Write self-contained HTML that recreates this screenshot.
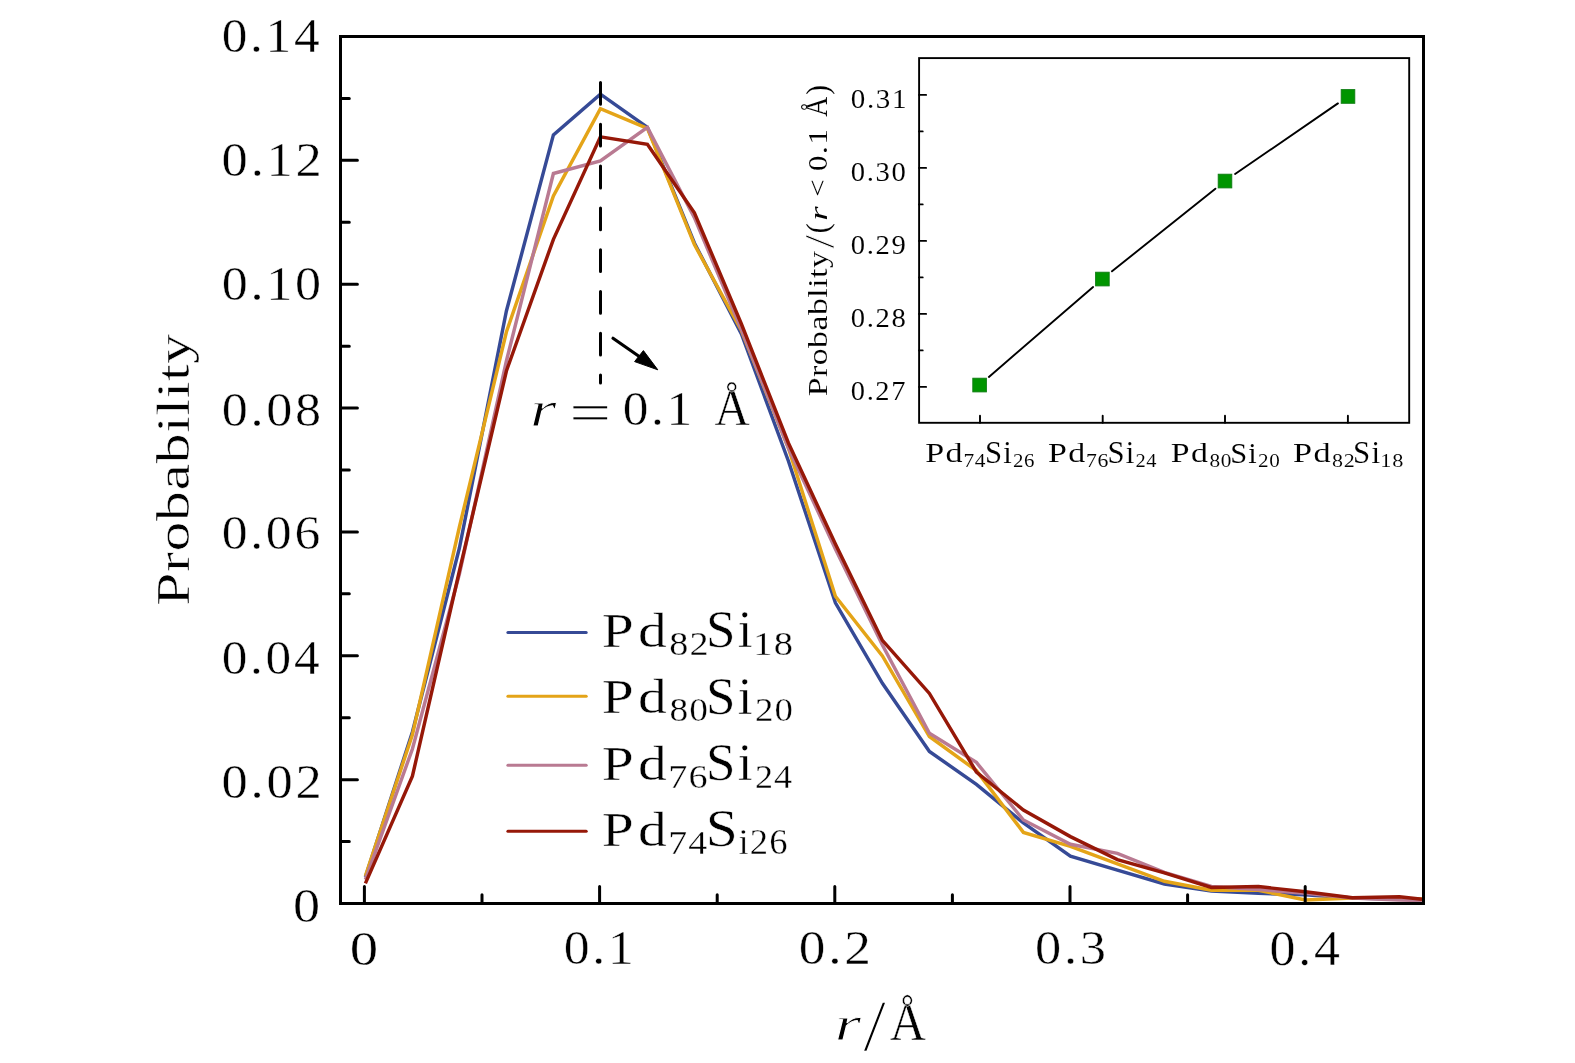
<!DOCTYPE html>
<html lang="en"><head><meta charset="utf-8"><title>Probability distribution of r</title>
<style>html,body{margin:0;padding:0;background:#fff}svg{display:block;will-change:transform}</style></head><body>
<svg width="1575" height="1063" viewBox="0 0 1575 1063" role="img" aria-label="Probability versus r for Pd-Si alloys">
<rect width="1575" height="1063" fill="#fff"/>
<g>
<polyline points="365.4,877.0 412.4,732.0 459.4,548.0 506.4,311.0 553.4,134.9 600.4,94.2 647.4,127.4 694.4,243.0 741.4,334.0 788.4,461.0 835.4,602.8 882.4,683.3 929.4,751.5 976.4,784.3 1023.4,823.0 1070.4,856.1 1117.4,870.1 1164.4,884.0 1211.4,891.0 1258.4,893.3 1305.4,894.8 1352.4,898.0 1399.4,899.0 1422.0,899.5" fill="none" stroke="#364A96" stroke-width="3.45" stroke-linejoin="miter" stroke-miterlimit="6" stroke-linecap="butt"/>
<polyline points="365.4,876.0 412.4,734.8 459.4,527.0 506.4,332.0 553.4,196.0 600.4,108.6 647.4,128.3 694.4,244.6 741.4,330.5 788.4,448.0 835.4,596.3 882.4,656.0 929.4,736.5 976.4,770.6 1023.4,832.4 1070.4,846.3 1117.4,863.8 1164.4,881.3 1211.4,890.3 1258.4,890.3 1305.4,900.0 1352.4,898.0 1399.4,898.5 1422.0,899.0" fill="none" stroke="#E4A418" stroke-width="3.45" stroke-linejoin="miter" stroke-miterlimit="6" stroke-linecap="butt"/>
<polyline points="365.4,879.6 412.4,749.0 459.4,574.0 506.4,361.0 553.4,173.5 600.4,160.9 647.4,127.4 694.4,217.7 741.4,329.5 788.4,448.0 835.4,549.0 882.4,645.0 929.4,733.2 976.4,762.4 1023.4,820.0 1070.4,844.3 1117.4,853.3 1164.4,872.3 1211.4,886.5 1258.4,889.5 1305.4,893.3 1352.4,898.0 1399.4,900.0 1422.0,900.5" fill="none" stroke="#B97A92" stroke-width="3.45" stroke-linejoin="miter" stroke-miterlimit="6" stroke-linecap="butt"/>
<polyline points="365.4,883.4 412.4,776.2 459.4,571.0 506.4,371.0 553.4,239.3 600.4,136.8 647.4,144.3 694.4,212.8 741.4,324.0 788.4,443.0 835.4,544.0 882.4,640.4 929.4,693.4 976.4,772.0 1023.4,810.0 1070.4,836.6 1117.4,859.6 1164.4,872.9 1211.4,887.4 1258.4,886.6 1305.4,891.8 1352.4,897.7 1399.4,896.8 1422.0,899.2" fill="none" stroke="#961808" stroke-width="3.45" stroke-linejoin="miter" stroke-miterlimit="6" stroke-linecap="butt"/>
</g>
<g stroke="#000" fill="none">
<rect x="340.5" y="36.5" width="1083" height="867" stroke-width="3"/>
<path d="M340.5 841.57h8.8 M340.5 779.64h16.9 M340.5 717.71h8.8 M340.5 655.78h16.9 M340.5 593.85h8.8 M340.5 531.92h16.9 M340.5 469.99h8.8 M340.5 408.06h16.9 M340.5 346.13h8.8 M340.5 284.20h16.9 M340.5 222.27h8.8 M340.5 160.34h16.9 M340.5 98.41h8.8 M364.40 903.5v-16.9 M482.00 903.5v-8.8 M599.60 903.5v-16.9 M717.20 903.5v-8.8 M834.80 903.5v-16.9 M952.40 903.5v-8.8 M1070.00 903.5v-16.9 M1187.60 903.5v-8.8 M1305.20 903.5v-16.9" stroke-width="3" stroke-linecap="round"/>
<path d="M600.5 82.5V383" stroke-width="3" stroke-dasharray="21.8 20" stroke-linecap="round"/>
<path d="M613 338.3L645 360.5" stroke-width="3.2" stroke-linecap="round"/>
<path d="M657.8 369.8L634.6 361.6L643.4 350.6Z" fill="#000" stroke-width="1" stroke-linejoin="round"/>
</g>
<g fill="none" stroke-width="3" stroke-linecap="round">
<path d="M507.9 632.4H586.2" stroke="#364A96"/>
<path d="M507.9 696.3H586.2" stroke="#E4A418"/>
<path d="M507.9 765.3H586.2" stroke="#B97A92"/>
<path d="M507.9 831.2H586.2" stroke="#961808"/>
</g>
<g stroke="#000" fill="none">
<rect x="919.1" y="58.1" width="490.1" height="364.7" fill="#fff" stroke-width="1.9"/>
<path d="M919.1 386.90h7.0 M919.1 350.40h3.6 M919.1 313.90h7.0 M919.1 277.40h3.6 M919.1 240.90h7.0 M919.1 204.40h3.6 M919.1 167.90h7.0 M919.1 131.40h3.6 M919.1 94.90h7.0 M980.0 422.8v-7 M1102.7 422.8v-7 M1225.0 422.8v-7 M1347.9 422.8v-7" stroke-width="1.9" stroke-linecap="round"/>
<path d="M988.9 377.0L1093.1 287.0 M1112.0 271.3L1215.4 188.7 M1235.1 174.0L1337.9 103.4" stroke-width="1.9" stroke-linecap="round"/>
</g>
<g fill="#009500" stroke="#0E7C12" stroke-width="0.9">
<rect x="972.8" y="378.2" width="13.6" height="13.7"/>
<rect x="1095.6" y="272.2" width="13.6" height="13.7"/>
<rect x="1218.2" y="174.2" width="13.6" height="13.7"/>
<rect x="1341.2" y="89.6" width="13.6" height="13.7"/>
</g>
<g>
<text transform="translate(221.66,51.67) scale(1.0703,0.9938)" font-family='"Liberation Serif", serif' font-size="48" letter-spacing="2.5" fill="#000" stroke="#fff" stroke-width="0.43">0.14</text>
<text transform="translate(221.61,175.97) scale(1.0950,1.0000)" font-family='"Liberation Serif", serif' font-size="48" letter-spacing="2.5" fill="#000" stroke="#fff" stroke-width="0.43">0.12</text>
<text transform="translate(221.63,300.26) scale(1.0866,1.0125)" font-family='"Liberation Serif", serif' font-size="48" letter-spacing="2.5" fill="#000" stroke="#fff" stroke-width="0.43">0.10</text>
<text transform="translate(221.63,425.86) scale(1.0866,1.0156)" font-family='"Liberation Serif", serif' font-size="48" letter-spacing="2.5" fill="#000" stroke="#fff" stroke-width="0.43">0.08</text>
<text transform="translate(221.64,549.46) scale(1.0784,1.0219)" font-family='"Liberation Serif", serif' font-size="48" letter-spacing="2.5" fill="#000" stroke="#fff" stroke-width="0.43">0.06</text>
<text transform="translate(221.66,674.06) scale(1.0703,1.0156)" font-family='"Liberation Serif", serif' font-size="48" letter-spacing="2.5" fill="#000" stroke="#fff" stroke-width="0.43">0.04</text>
<text transform="translate(221.61,798.36) scale(1.0950,1.0125)" font-family='"Liberation Serif", serif' font-size="48" letter-spacing="2.5" fill="#000" stroke="#fff" stroke-width="0.43">0.02</text>
<text transform="translate(292.94,922.17) scale(1.1300,1.0000)" font-family='"Liberation Serif", serif' font-size="48" letter-spacing="0" fill="#000" stroke="#fff" stroke-width="0.43">0</text>
<text transform="translate(349.63,964.96) scale(1.1850,1.0281)" font-family='"Liberation Serif", serif' font-size="48" letter-spacing="0" fill="#000" stroke="#fff" stroke-width="0.43">0</text>
<text transform="translate(563.74,964.46) scale(1.0783,1.0156)" font-family='"Liberation Serif", serif' font-size="48" letter-spacing="2.5" fill="#000" stroke="#fff" stroke-width="0.43">0.1</text>
<text transform="translate(798.68,964.46) scale(1.1117,1.0156)" font-family='"Liberation Serif", serif' font-size="48" letter-spacing="2.5" fill="#000" stroke="#fff" stroke-width="0.43">0.2</text>
<text transform="translate(1034.91,964.46) scale(1.0934,1.0156)" font-family='"Liberation Serif", serif' font-size="48" letter-spacing="2.5" fill="#000" stroke="#fff" stroke-width="0.43">0.3</text>
<text transform="translate(1269.54,964.66) scale(1.0823,1.0344)" font-family='"Liberation Serif", serif' font-size="48" letter-spacing="2.5" fill="#000" stroke="#fff" stroke-width="0.43">0.4</text>
<text transform="translate(188.82,605.83) rotate(-90) scale(1.2208,0.9364)" font-family='"Liberation Serif", serif' font-size="49" letter-spacing="0.5" fill="#000" stroke="#fff" stroke-width="0.5">Probability</text>
<text transform="translate(834.69,1039.93) scale(1.3531,0.9882)" font-family='"Liberation Serif", serif' font-size="50" letter-spacing="0" fill="#000" stroke="#fff" stroke-width="0.9"><tspan font-style="italic">r</tspan></text>
<text transform="translate(863.09,1050.90) scale(1.6703,1.4845)" font-family='"Liberation Serif", serif' font-size="50" letter-spacing="0" fill="#000" stroke="#fff" stroke-width="0.95">/</text>
<text transform="translate(889.83,1039.56) scale(1.0000,1.0884)" font-family='"Liberation Serif", serif' font-size="50" letter-spacing="0" fill="#000" stroke="#fff" stroke-width="0.45">Å</text>
<text transform="translate(529.88,425.93) scale(1.3592,0.9971)" font-family='"Liberation Serif", serif' font-size="50" letter-spacing="0" fill="#000" stroke="#fff" stroke-width="0.9"><tspan font-style="italic">r</tspan></text>
<text transform="translate(569.22,431.16) scale(1.4912,1.0833)" font-family='"Liberation Serif", serif' font-size="50" letter-spacing="0" fill="#000" stroke="#fff" stroke-width="0.55">=</text>
<text transform="translate(622.66,425.27) scale(1.0700,1.0000)" font-family='"Liberation Serif", serif' font-size="48" letter-spacing="2.5" fill="#000" stroke="#fff" stroke-width="0.43">0.1</text>
<text transform="translate(714.55,425.46) scale(0.9771,1.0686)" font-family='"Liberation Serif", serif' font-size="50" letter-spacing="0" fill="#000" stroke="#fff" stroke-width="0.45">Å</text>
<text transform="translate(601.70,646.66) scale(1.2000,1.0200)" font-family='"Liberation Serif", serif' font-size="48" letter-spacing="3.5" fill="#000" stroke="#fff" stroke-width="0.43">Pd</text>
<text transform="translate(669.36,654.60) scale(1.1576,1.0292)" font-family='"Liberation Serif", serif' font-size="33" letter-spacing="1.0" fill="#000" stroke="#fff" stroke-width="0.3">82</text>
<text transform="translate(706.02,647.03) scale(1.1044,1.1156)" font-family='"Liberation Serif", serif' font-size="48" letter-spacing="2.0" fill="#000" stroke="#fff" stroke-width="0.43">Si</text>
<text transform="translate(753.30,654.60) scale(1.1663,1.0292)" font-family='"Liberation Serif", serif' font-size="33" letter-spacing="1.0" fill="#000" stroke="#fff" stroke-width="0.3">18</text>
<text transform="translate(601.70,713.36) scale(1.2000,1.0200)" font-family='"Liberation Serif", serif' font-size="48" letter-spacing="3.5" fill="#000" stroke="#fff" stroke-width="0.43">Pd</text>
<text transform="translate(669.39,721.30) scale(1.1330,1.0292)" font-family='"Liberation Serif", serif' font-size="33" letter-spacing="1.0" fill="#000" stroke="#fff" stroke-width="0.3">80</text>
<text transform="translate(706.02,713.73) scale(1.1044,1.1156)" font-family='"Liberation Serif", serif' font-size="48" letter-spacing="2.0" fill="#000" stroke="#fff" stroke-width="0.43">Si</text>
<text transform="translate(754.94,721.30) scale(1.1161,1.0292)" font-family='"Liberation Serif", serif' font-size="33" letter-spacing="1.0" fill="#000" stroke="#fff" stroke-width="0.3">20</text>
<text transform="translate(601.70,779.66) scale(1.2000,1.0200)" font-family='"Liberation Serif", serif' font-size="48" letter-spacing="3.5" fill="#000" stroke="#fff" stroke-width="0.43">Pd</text>
<text transform="translate(668.20,787.60) scale(1.1576,1.0292)" font-family='"Liberation Serif", serif' font-size="33" letter-spacing="1.0" fill="#000" stroke="#fff" stroke-width="0.3">76</text>
<text transform="translate(706.02,780.03) scale(1.1044,1.1156)" font-family='"Liberation Serif", serif' font-size="48" letter-spacing="2.0" fill="#000" stroke="#fff" stroke-width="0.43">Si</text>
<text transform="translate(754.98,787.95) scale(1.0926,1.0453)" font-family='"Liberation Serif", serif' font-size="33" letter-spacing="1.0" fill="#000" stroke="#fff" stroke-width="0.3">24</text>
<text transform="translate(601.70,845.66) scale(1.2000,1.0200)" font-family='"Liberation Serif", serif' font-size="48" letter-spacing="3.5" fill="#000" stroke="#fff" stroke-width="0.43">Pd</text>
<text transform="translate(668.23,853.95) scale(1.1452,1.0453)" font-family='"Liberation Serif", serif' font-size="33" letter-spacing="1.0" fill="#000" stroke="#fff" stroke-width="0.3">74</text>
<text transform="translate(705.70,846.03) scale(1.2000,1.1156)" font-family='"Liberation Serif", serif' font-size="48" letter-spacing="0" fill="#000" stroke="#fff" stroke-width="0.43">S</text>
<text transform="translate(738.59,853.60) scale(1.1095,1.1123)" font-family='"Liberation Serif", serif' font-size="33" letter-spacing="1.0" fill="#000" stroke="#fff" stroke-width="0.3">i26</text>
<text transform="translate(850.82,108.17) scale(1.0755,0.9927)" font-family='"Liberation Serif", serif' font-size="27" letter-spacing="1.5" fill="#000" stroke="#fff" stroke-width="0.08">0.31</text>
<text transform="translate(850.84,181.17) scale(1.0611,0.9927)" font-family='"Liberation Serif", serif' font-size="27" letter-spacing="1.5" fill="#000" stroke="#fff" stroke-width="0.08">0.30</text>
<text transform="translate(850.84,254.17) scale(1.0611,0.9927)" font-family='"Liberation Serif", serif' font-size="27" letter-spacing="1.5" fill="#000" stroke="#fff" stroke-width="0.08">0.29</text>
<text transform="translate(850.84,327.17) scale(1.0611,0.9927)" font-family='"Liberation Serif", serif' font-size="27" letter-spacing="1.5" fill="#000" stroke="#fff" stroke-width="0.08">0.28</text>
<text transform="translate(850.85,400.17) scale(1.0540,0.9927)" font-family='"Liberation Serif", serif' font-size="27" letter-spacing="1.5" fill="#000" stroke="#fff" stroke-width="0.08">0.27</text>
<text transform="translate(925.26,462.38) scale(1.2375,1.0063)" font-family='"Liberation Serif", serif' font-size="27.5" letter-spacing="1.1443793287160373" fill="#000" stroke="#fff" stroke-width="0.08">Pd</text>
<text transform="translate(963.45,467.06) scale(1.1285,1.0346)" font-family='"Liberation Serif", serif' font-size="19" letter-spacing="0.5721896643580187" fill="#000" stroke="#fff" stroke-width="0.08">74</text>
<text transform="translate(984.92,462.57) scale(1.1158,1.1142)" font-family='"Liberation Serif", serif' font-size="27.5" letter-spacing="1.1443793287160373" fill="#000" stroke="#fff" stroke-width="0.08">Si</text>
<text transform="translate(1013.00,467.06) scale(1.0999,1.0074)" font-family='"Liberation Serif", serif' font-size="19" letter-spacing="0.5721896643580187" fill="#000" stroke="#fff" stroke-width="0.08">26</text>
<text transform="translate(1047.97,462.38) scale(1.2341,1.0035)" font-family='"Liberation Serif", serif' font-size="27.5" letter-spacing="1.1411827384123592" fill="#000" stroke="#fff" stroke-width="0.08">Pd</text>
<text transform="translate(1086.01,467.05) scale(1.1466,1.0045)" font-family='"Liberation Serif", serif' font-size="19" letter-spacing="0.5705913692061796" fill="#000" stroke="#fff" stroke-width="0.08">76</text>
<text transform="translate(1107.46,462.57) scale(1.1127,1.1111)" font-family='"Liberation Serif", serif' font-size="27.5" letter-spacing="1.1411827384123592" fill="#000" stroke="#fff" stroke-width="0.08">Si</text>
<text transform="translate(1135.48,467.05) scale(1.0769,1.0045)" font-family='"Liberation Serif", serif' font-size="19" letter-spacing="0.5705913692061796" fill="#000" stroke="#fff" stroke-width="0.08">24</text>
<text transform="translate(1170.87,462.38) scale(1.2295,0.9997)" font-family='"Liberation Serif", serif' font-size="27.5" letter-spacing="1.1369206180074594" fill="#000" stroke="#fff" stroke-width="0.08">Pd</text>
<text transform="translate(1209.55,467.03) scale(1.1211,1.0008)" font-family='"Liberation Serif", serif' font-size="19" letter-spacing="0.5684603090037297" fill="#000" stroke="#fff" stroke-width="0.08">80</text>
<text transform="translate(1230.14,462.57) scale(1.1085,1.1069)" font-family='"Liberation Serif", serif' font-size="27.5" letter-spacing="1.1369206180074594" fill="#000" stroke="#fff" stroke-width="0.08">Si</text>
<text transform="translate(1258.02,467.03) scale(1.1133,1.0008)" font-family='"Liberation Serif", serif' font-size="19" letter-spacing="0.5684603090037297" fill="#000" stroke="#fff" stroke-width="0.08">20</text>
<text transform="translate(1292.96,462.38) scale(1.2444,1.0119)" font-family='"Liberation Serif", serif' font-size="27.5" letter-spacing="1.1507725093233885" fill="#000" stroke="#fff" stroke-width="0.08">Pd</text>
<text transform="translate(1332.10,467.09) scale(1.1562,1.0130)" font-family='"Liberation Serif", serif' font-size="19" letter-spacing="0.5753862546616942" fill="#000" stroke="#fff" stroke-width="0.08">82</text>
<text transform="translate(1352.95,462.57) scale(1.1220,1.1204)" font-family='"Liberation Serif", serif' font-size="27.5" letter-spacing="1.1507725093233885" fill="#000" stroke="#fff" stroke-width="0.08">Si</text>
<text transform="translate(1380.34,467.09) scale(1.1711,1.0130)" font-family='"Liberation Serif", serif' font-size="19" letter-spacing="0.5753862546616942" fill="#000" stroke="#fff" stroke-width="0.08">18</text>
<text transform="translate(826.90,396.23) rotate(-90) scale(1.2274,0.9840)" font-family='"Liberation Serif", serif' font-size="27.5" letter-spacing="0.4" fill="#000" stroke="#fff" stroke-width="0.08">Probablity</text>
<text transform="translate(834.00,248.60) rotate(-90) scale(1.7857,1.5556)" font-family='"Liberation Serif", serif' font-size="27.5" letter-spacing="0" fill="#000" stroke="#fff" stroke-width="0.45">/</text>
<text transform="translate(827.57,233.25) rotate(-90) scale(1.0857,1.1351)" font-family='"Liberation Serif", serif' font-size="27.5" letter-spacing="0" fill="#000" stroke="#fff" stroke-width="0.08">(</text>
<text transform="translate(827.20,220.80) rotate(-90) scale(1.3500,0.9385)" font-family='"Liberation Serif", serif' font-size="27.5" letter-spacing="0" fill="#000" stroke="#fff" stroke-width="0.08"><tspan font-style="italic">r</tspan></text>
<text transform="translate(825.74,196.82) rotate(-90) scale(1.1368,0.9538)" font-family='"Liberation Serif", serif' font-size="27.5" letter-spacing="0" fill="#000" stroke="#fff" stroke-width="0.08">&lt;</text>
<text transform="translate(827.16,171.03) rotate(-90) scale(1.1250,1.0125)" font-family='"Liberation Serif", serif' font-size="27.5" letter-spacing="1.5" fill="#000" stroke="#fff" stroke-width="0.08">0.1</text>
<text transform="translate(827.20,116.84) rotate(-90) scale(1.0086,1.1373)" font-family='"Liberation Serif", serif' font-size="27.5" letter-spacing="0" fill="#000" stroke="#fff" stroke-width="0.08">Å</text>
<text transform="translate(827.57,94.69) rotate(-90) scale(1.0857,1.1351)" font-family='"Liberation Serif", serif' font-size="27.5" letter-spacing="0" fill="#000" stroke="#fff" stroke-width="0.08">)</text>
</g>
</svg></body></html>
